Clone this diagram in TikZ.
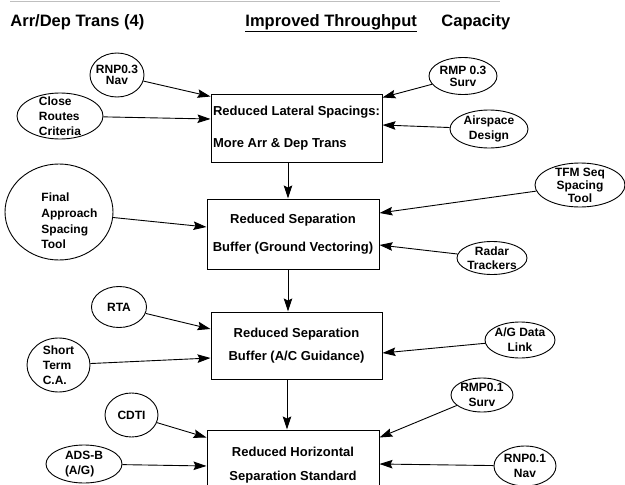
\documentclass[tikz,border=0pt]{standalone}
\usepackage{fontspec}
\setmainfont{Liberation Sans}
\usetikzlibrary{arrows.meta,shapes.geometric}
\tikzset{
goalbox/.style={
  rectangle,
  draw=black,
  line width=1pt,
  inner sep=2pt,
  font=\fontsize{13}{15.5}\selectfont\bfseries,
  align=center
  },
enabler/.style 2 args={
  ellipse,
  draw=black,
  line width=0.9pt,
  inner sep=-14pt,
  minimum width=#1,
  minimum height=#2,
  font=\fontsize{12}{15}\selectfont\bfseries,
  align=center
  },
etxt/.style={
  inner sep=0pt,
  font=\fontsize{12}{15.7}\selectfont\bfseries
  },
hdr/.style={
  anchor=base west,
  inner sep=0pt,
  font=\fontsize{16.5}{18}\selectfont\bfseries
  }
}

\begin{document}
\begin{tikzpicture}[x=1pt,y=-1pt,line width=0.9pt,
  >={Stealth[length=13pt,width=8.5pt,inset=2pt]}]
\useasboundingbox (0,0) rectangle (625,485);
\clip (0,0) rectangle (625,485);

% header
\draw[black!25] (10,1) -- (500,1);
\node[hdr] (trans) at (10,26) {Arr/Dep Trans (4)};
\node[hdr] (thru) at (245,26) {\underline{Improved Throughput}};
\node[hdr] (cap) at (441,26) {Capacity};

% goals
\node[goalbox,align=left,minimum width=171pt,minimum height=68pt] (lat) at (296.5,128)
  {Reduced Lateral Spacings:\\[16pt]More Arr \& Dep Trans};
\node[goalbox,minimum width=172pt,minimum height=70pt] (sepg) at (293,234)
  {Reduced Separation\\[12pt]Buffer (Ground Vectoring)};
\node[goalbox,minimum width=171pt,minimum height=67pt] (sepa) at (296.5,345.5)
  {Reduced Separation\\[8pt]Buffer (A/C Guidance)};
\node[goalbox,minimum width=172pt,minimum height=70pt] (hsep) at (293,465)
  {Reduced Horizontal\\[8pt]Separation Standard};

\draw[->] ([xshift=-8.5pt]lat.south) -- ([xshift=-5pt]sepg.north);
\draw[->] ([xshift=-5pt]sepg.south) -- ([xshift=-8.5pt]sepa.north);
\draw[->] ([xshift=-9.5pt]sepa.south) -- ([xshift=-6pt]hsep.north);

% enablers
\node[enabler={54pt}{44pt}] (nav3) at (117,75) {RNP0.3\\[-4pt]Nav};
\node[enabler={86pt}{46pt},align=left] (close) at (60,116) {Close\\Routes\\Criteria};
\node[enabler={68pt}{37pt}] (surv3) at (463,76) {RMP 0.3\\[-3pt]Surv};
\node[enabler={78pt}{38pt}] (air) at (489,129) {Airspace\\Design};

\node[enabler={108pt}{96pt}] (fast) at (59,212) {};
\node[etxt,align=left,anchor=west] (fast-txt) at (41,221) {Final\\Approach\\Spacing\\Tool};
\node[enabler={90pt}{44pt}] (tfm) at (580,185) {TFM Seq\\[-2pt]Spacing\\[-2pt]Tool};
\node[enabler={70pt}{33pt}] (radar) at (492,258) {Radar\\[-1pt]Trackers};

\node[enabler={55pt}{41pt}] (rta) at (119,307) {RTA};
\node[enabler={63pt}{54pt},align=left] (stca) at (58.5,365) {Short\\Term\\C.A.};
\node[enabler={70pt}{36pt}] (agdl) at (520,340) {A/G Data\\Link};

\node[enabler={53pt}{44pt}] (cdti) at (131.5,415) {CDTI};
\node[enabler={76pt}{38pt},align=left] (adsb) at (84,464) {ADS-B\\(A/G)};
\node[enabler={62pt}{34pt}] (surv1) at (482,395) {RMP0.1\\Surv};
\node[enabler={62pt}{40pt}] (nav1) at (525,466) {RNP0.1\\Nav};

\begin{scope}
\draw[->] (nav3) -- ([yshift=-3pt]lat.north west);
\draw[->] (close) -- ([yshift=9pt]lat.west);
\draw[->] (surv3) -- ([yshift=-4pt]lat.north east);
\draw[->] (air) -- ([yshift=3pt]lat.east);
\end{scope}

\begin{scope}
\draw[->] (fast) -- ([yshift=7pt]sepg.west);
\draw[->] (tfm) -- ([yshift=21pt]sepg.east);
\draw[->] (radar) -- ([yshift=-11pt]sepg.east);
\end{scope}

\begin{scope}
\draw[->] (rta) -- ([yshift=16.5pt]sepa.west);
\draw[->] (stca) -- ([yshift=-12.5pt]sepa.west);
\draw[->] (agdl) -- ([yshift=-7.5pt]sepa.east);
\end{scope}

\begin{scope}
\draw[->] (cdti) -- ([yshift=-8pt]hsep.north west);
\draw[->] (adsb) -- ([yshift=-1pt]hsep.west);
\draw[->] (surv1) -- ([yshift=-8pt]hsep.north east);
\draw[->] (nav1) -- ([yshift=1pt]hsep.east);
\end{scope}
\end{tikzpicture}
\end{document}
